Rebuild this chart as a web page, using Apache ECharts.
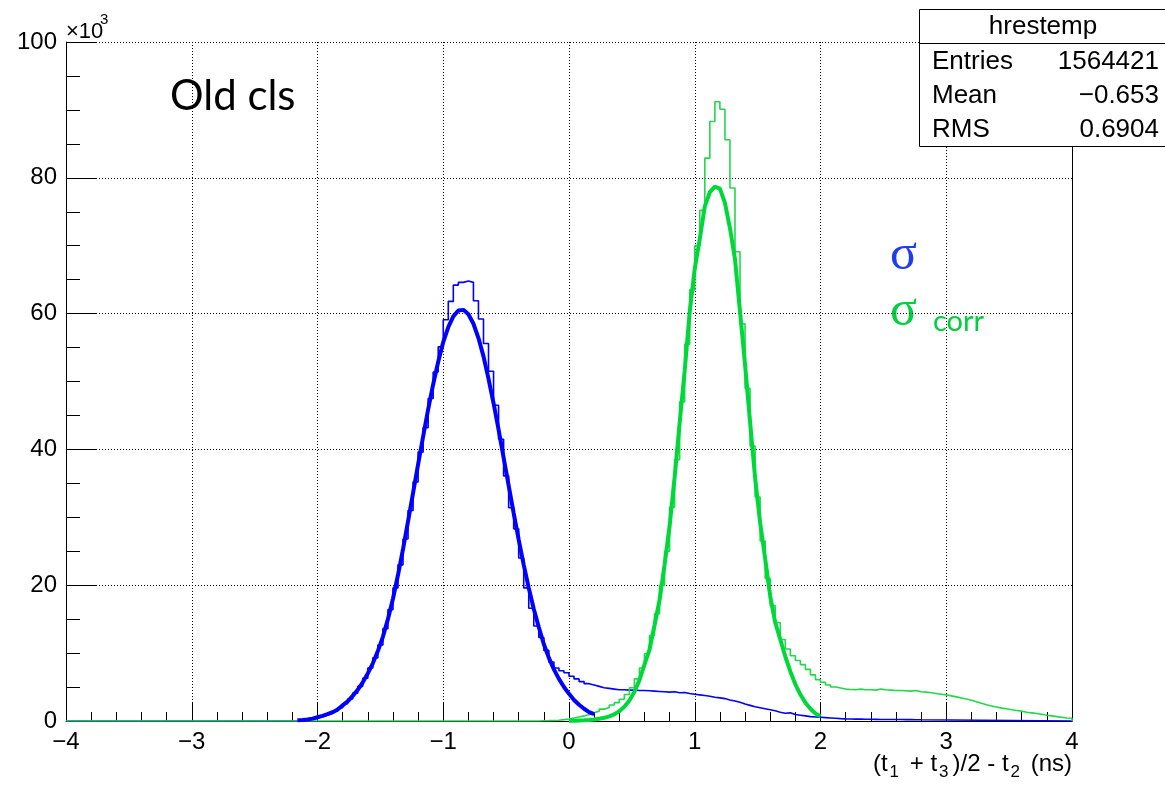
<!DOCTYPE html>
<html><head><meta charset="utf-8">
<script src="https://cdn.jsdelivr.net/npm/echarts@6/dist/echarts.min.js"></script>
<style>html,body{margin:0;padding:0;background:#fff}#c{width:1165px;height:792px}</style>
</head><body><div id="c"></div>
<script>
// ---- data (values in units of 10^3 entries) ----
const binWidth = 0.04;
const xTicks = [-4, -3, -2, -1, 0, 1, 2, 3, 4];
const yTicks = [0, 20, 40, 60, 80, 100];

// blue histogram (sigma), first bin left edge:
const blueHistStart = -2.16;
const blueHist = [
  0.12, 0.18, 0.28, 0.45, 0.62, 0.88, 1.12, 1.45, 1.95, 2.55,
  3.25, 4.1, 5.1, 6.3, 7.8, 9.3, 11.2, 13.6, 16.4, 19.6,
  23.0, 26.8, 31.0, 35.2, 39.6, 43.2, 47.5, 51.4, 55.1, 59.1,
  61.8, 64.2, 64.6, 64.8, 64.6, 61.9, 59.2, 55.6, 51.5, 46.5,
  41.5, 36.1, 31.4, 28.3, 24.0, 19.6, 16.6, 14.0, 12.3, 10.4,
  8.7, 7.8, 7.4, 7.1, 6.6, 6.2, 5.8, 5.5, 5.3, 5.1,
  4.9, 4.8, 4.7, 4.6, 4.6, 4.55, 4.55, 4.5, 4.5, 4.45,
  4.4, 4.35, 4.3, 4.25, 4.3, 4.15, 4.2, 4.05, 3.95, 3.85,
  3.75, 3.65, 3.5, 3.4, 3.3, 3.1, 2.95, 2.75, 2.5, 2.3,
  2.1, 1.95, 1.8, 1.65, 1.5, 1.3, 1.15, 1.2, 0.95, 0.85,
  0.75, 0.65, 0.6, 0.55, 0.5, 0.45, 0.4, 0.35, 0.32, 0.3,
  0.28, 0.27, 0.26, 0.25, 0.24, 0.23, 0.22, 0.22, 0.21, 0.21,
  0.2, 0.2, 0.19, 0.18
];

// green histogram (sigma_corr), first bin left edge:
const greenHistStart = -0.24;
const greenHist = [
  0.03, 0.05, 0.08, 0.12, 0.2, 0.3, 0.45, 0.6, 0.75, 0.95,
  1.2, 1.45, 1.75, 2.0, 2.35, 2.7, 3.2, 3.9, 4.9, 6.2,
  7.8, 9.9, 12.6, 15.8, 20.0, 25.0, 31.5, 38.5, 47.0, 55.5,
  63.5, 70.0, 75.2, 82.9, 88.3, 91.2, 90.1, 85.6, 78.5, 69.1,
  58.5, 49.0, 40.5, 33.0, 26.5, 21.0, 17.0, 14.5, 12.0, 10.6,
  9.6, 8.9, 8.3, 7.6, 6.8, 6.1, 5.7, 5.3, 5.0, 4.85,
  4.7, 4.65, 4.6, 4.7, 4.6, 4.6, 4.55, 4.7, 4.6, 4.55,
  4.5, 4.5, 4.45, 4.4, 4.5, 4.3, 4.25, 4.15, 4.05, 3.95,
  3.85, 3.7, 3.55, 3.4, 3.25, 3.05, 2.85, 2.6, 2.4, 2.2,
  2.05, 1.9, 1.8, 1.65, 1.55, 1.45, 1.3, 1.2, 1.1, 1.0,
  0.85, 0.75, 0.65, 0.55, 0.45, 0.4
];

// fitted curves, sampled every 0.04 ns
const fitStep = 0.04;
const blueFitStart = -2.16;
const blueFit = [
  0.1, 0.15, 0.22, 0.35, 0.55, 0.75, 1.0, 1.3, 1.7, 2.3,
  2.9, 3.7, 4.6, 5.7, 7.0, 8.5, 10.3, 12.4, 15.0, 18.0,
  21.5, 25.3, 29.4, 33.6, 37.8, 41.9, 45.9, 49.6, 52.9, 55.8,
  58.0, 59.6, 60.45, 60.55, 59.9, 58.5, 56.4, 53.7, 50.4, 46.8,
  42.9, 38.8, 34.7, 30.6, 26.7, 23.0, 19.6, 16.5, 13.8, 11.3,
  9.3, 7.6, 6.2, 5.0, 4.0, 3.1, 2.4, 1.8, 1.3, 1.0
];
const greenFitStart = 0.0;
const greenFit = [
  0.02, 0.04, 0.07, 0.1, 0.15, 0.22, 0.32, 0.47, 0.68, 0.97,
  1.45, 2.1, 3.0, 4.3, 6.0, 8.3, 10.5, 14.1, 17.8, 23.0,
  28.7, 35.9, 43.9, 51.6, 60.3, 66.6, 71.0, 75.8, 77.9, 78.7,
  78.4, 76.3, 72.6, 68.0, 60.3, 52.5, 44.0, 35.8, 29.2, 23.9,
  18.4, 14.5, 12.0, 9.5, 7.3, 5.4, 3.9, 2.7, 1.8, 1.1,
  0.7
];

// ---- build series data ----
function histData(start, w, vals) {
  const d = [[-4, 0]];
  vals.forEach((v, i) => d.push([+(start + i * w).toFixed(3), v]));
  d.push([+(start + vals.length * w).toFixed(3), 0]);
  d.push([4, 0]);
  return d;
}
function curveData(start, step, vals) {
  return vals.map((v, i) => [+(start + i * step).toFixed(3), v]);
}

const BLUE = '#0000ff', GREEN_THIN = '#22d84a', GREEN_FIT = '#00d83a';
const FONT = 'Liberation Sans, Arial, sans-serif';

const chart = echarts.init(document.getElementById('c'), null, {renderer: 'canvas'});
chart.setOption({
  animation: false,
  backgroundColor: '#fff',
  grid: {left: 66, right: 93, top: 42, bottom: 71, containLabel: false},
  xAxis: {
    type: 'value', min: xTicks[0], max: xTicks[xTicks.length - 1], interval: 1,
    axisLine: {show: true, onZero: false, lineStyle: {color: '#000', width: 1}},
    axisTick: {show: true, inside: true, length: 18, lineStyle: {color: '#000', width: 1}},
    minorTick: {show: true, splitNumber: 5, length: 9, lineStyle: {color: '#000', width: 1}},
    splitLine: {show: true, lineStyle: {color: '#000', width: 1, type: [1, 2]}},
    axisLabel: {fontFamily: FONT, fontSize: 24, color: '#000', margin: 9,
      formatter: v => String(v).replace('-', '\u2212')}
  },
  yAxis: [{
    type: 'value', min: yTicks[0], max: yTicks[yTicks.length - 1], interval: 20, position: 'left',
    axisLine: {show: true, onZero: false, lineStyle: {color: '#000', width: 1}},
    axisTick: {show: true, inside: true, length: 30, lineStyle: {color: '#000', width: 1}},
    minorTick: {show: true, splitNumber: 4, length: 14, lineStyle: {color: '#000', width: 1}},
    splitLine: {show: true, lineStyle: {color: '#000', width: 1, type: [1, 2]}},
    axisLabel: {fontFamily: FONT, fontSize: 24, color: '#000', margin: 9}
  }, {
    type: 'value', min: yTicks[0], max: yTicks[yTicks.length - 1], position: 'right',
    axisLine: {show: true, onZero: false, lineStyle: {color: '#000', width: 1}},
    axisTick: {show: false}, minorTick: {show: false}, axisLabel: {show: false}, splitLine: {show: false}
  }],
  series: [
    {type: 'line', step: 'end', showSymbol: false, data: histData(blueHistStart, binWidth, blueHist),
     lineStyle: {color: BLUE, width: 1.6}, itemStyle: {color: BLUE}, z: 3},
    {type: 'line', step: 'end', showSymbol: false, data: histData(greenHistStart, binWidth, greenHist),
     lineStyle: {color: GREEN_THIN, width: 1.6}, itemStyle: {color: GREEN_THIN}, z: 4},
    {type: 'line', showSymbol: false, data: curveData(blueFitStart, fitStep, blueFit),
     lineStyle: {color: BLUE, width: 4}, itemStyle: {color: BLUE}, z: 5},
    {type: 'line', showSymbol: false, data: curveData(greenFitStart, fitStep, greenFit),
     lineStyle: {color: GREEN_FIT, width: 4}, itemStyle: {color: GREEN_FIT}, z: 6}
  ],
  graphic: [
    {type: 'text', left: 66, top: 21, style: {text: '\u00d710', font: '22px ' + FONT, fill: '#000'}},
    {type: 'text', left: 100, top: 12, style: {text: '3', font: '15px ' + FONT, fill: '#000'}},
    {type: 'text', left: 170, top: 75, style: {text: 'Old cls', font: '42px Lato, "Open Sans", sans-serif', fill: '#000'}},
    {type: 'text', left: 890, top: 231, style: {text: '\u03c3', font: '50px "Liberation Serif", serif', fill: '#1e3cf0'}},
    {type: 'text', left: 890, top: 287, style: {text: '\u03c3', font: '50px "Liberation Serif", serif', fill: '#00d040'}},
    {type: 'text', left: 933, top: 307, style: {text: 'corr', font: '29px Lato, "Open Sans", sans-serif', fill: '#00d040'}},
    {type: 'text', right: 93, top: 752, style: {
      text: '(t{s|1} + t{s|3})/2 - t{s|2} (ns)',
      font: '24px ' + FONT, fill: '#000', verticalAlign: 'top',
      rich: {s: {fontSize: 17, fontFamily: FONT, padding: [17, 4, 0, 2], verticalAlign: 'top'}}
    }},
    {type: 'rect', shape: {x: 919.5, y: 9.5, width: 260, height: 137}, style: {fill: '#fff', stroke: '#000', lineWidth: 1}, z: 100},
    {type: 'line', shape: {x1: 919.5, y1: 43.5, x2: 1165, y2: 43.5}, style: {stroke: '#000', lineWidth: 1}, z: 101},
    {type: 'text', x: 1043, y: 27, style: {text: 'hrestemp', font: '26px ' + FONT, fill: '#000', align: 'center', verticalAlign: 'middle'}, z: 102},
    {type: 'text', x: 932, y: 62, style: {text: 'Entries', font: '26px ' + FONT, fill: '#000', verticalAlign: 'middle'}, z: 102},
    {type: 'text', x: 1159, y: 62, style: {text: '1564421', font: '26px ' + FONT, fill: '#000', align: 'right', verticalAlign: 'middle'}, z: 102},
    {type: 'text', x: 932, y: 96, style: {text: 'Mean', font: '26px ' + FONT, fill: '#000', verticalAlign: 'middle'}, z: 102},
    {type: 'text', x: 1159, y: 96, style: {text: '\u22120.653', font: '26px ' + FONT, fill: '#000', align: 'right', verticalAlign: 'middle'}, z: 102},
    {type: 'text', x: 932, y: 130, style: {text: 'RMS', font: '26px ' + FONT, fill: '#000', verticalAlign: 'middle'}, z: 102},
    {type: 'text', x: 1159, y: 130, style: {text: '0.6904', font: '26px ' + FONT, fill: '#000', align: 'right', verticalAlign: 'middle'}, z: 102}
  ]
});
</script>
</body></html>
